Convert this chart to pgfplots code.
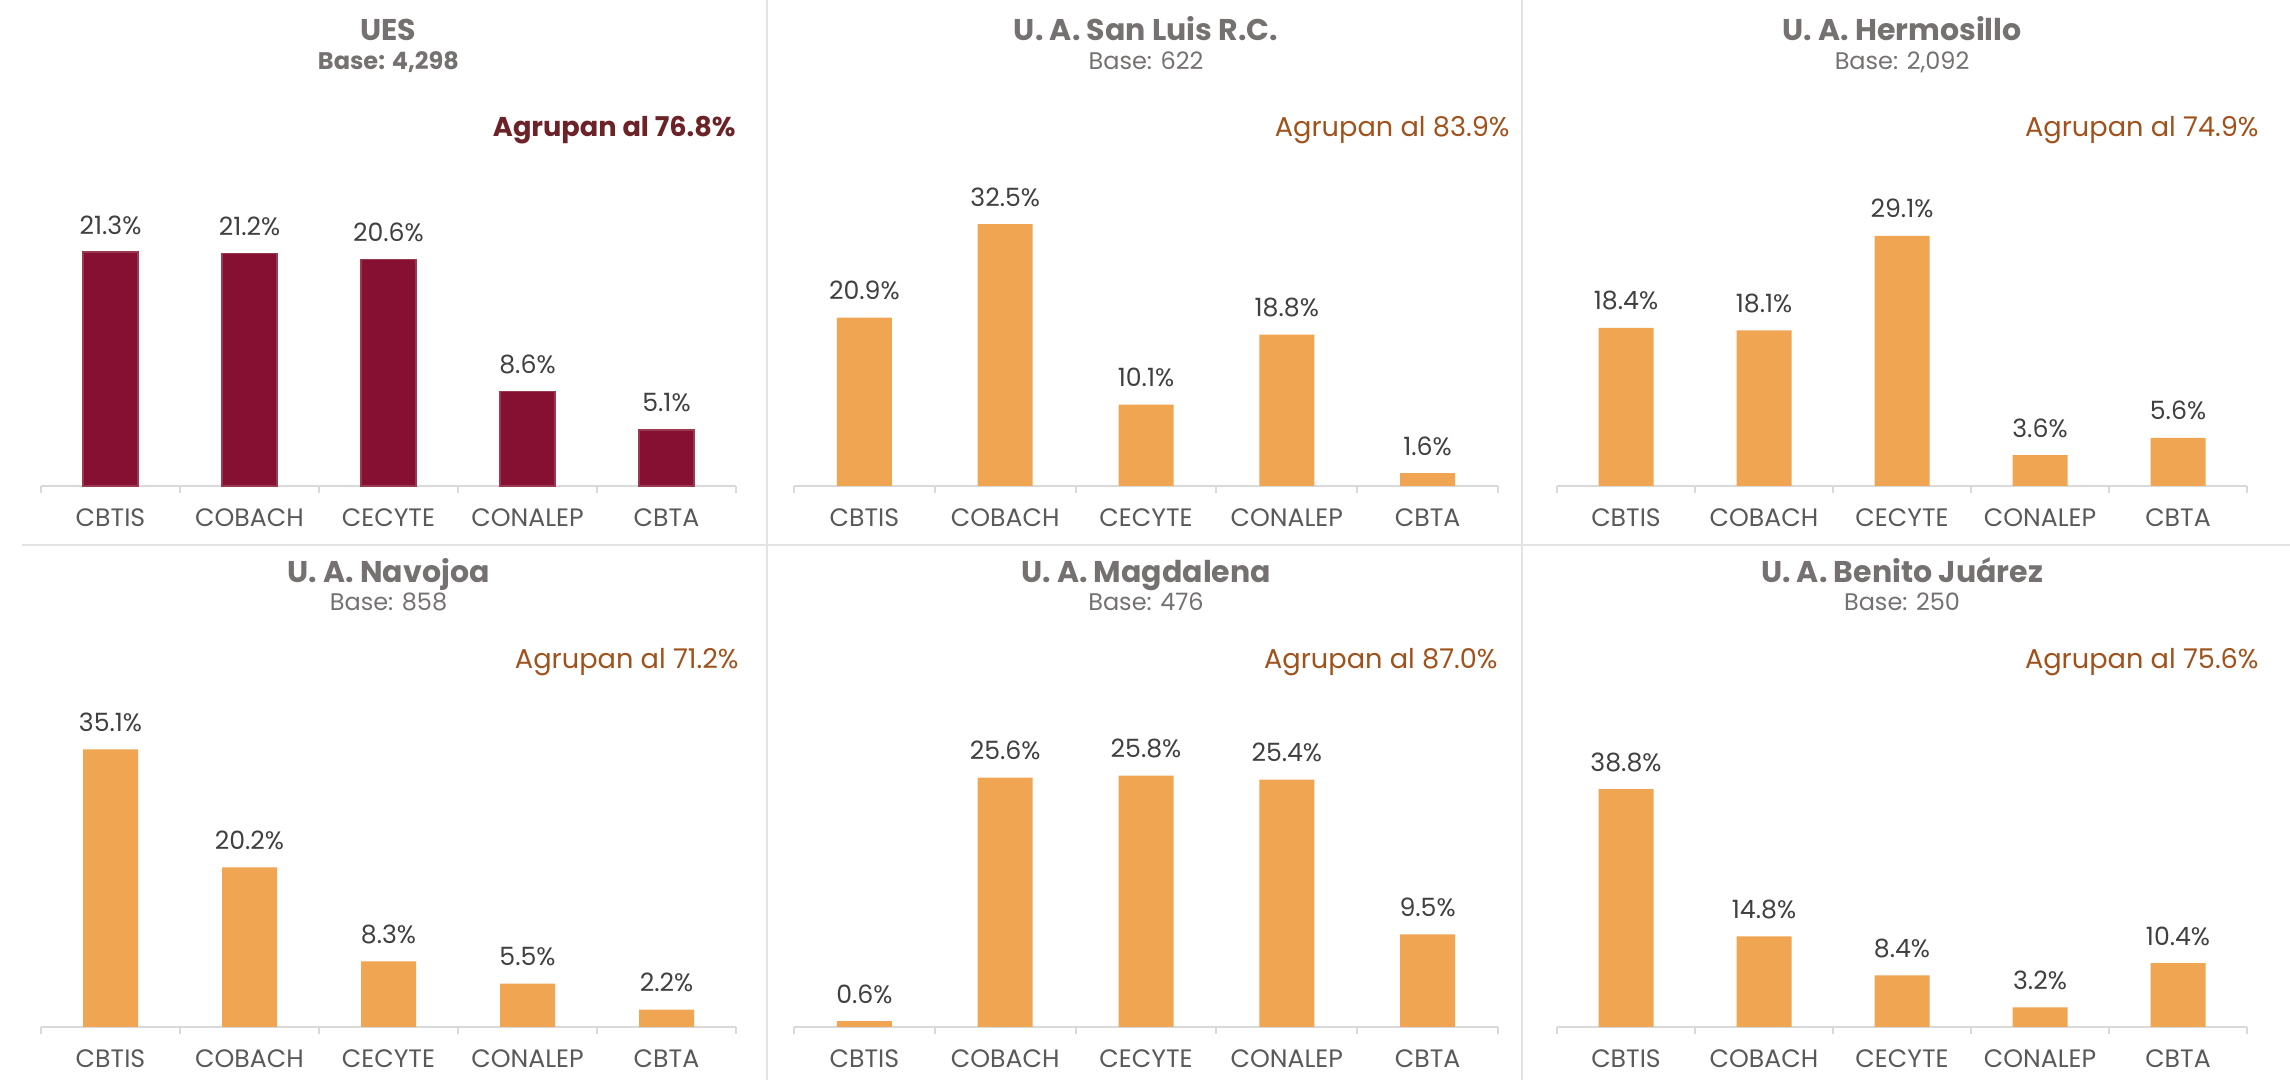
\documentclass[border=0pt]{standalone}
\usepackage{pgfplots}
\pgfplotsset{compat=1.18}
\usepackage{fontspec}
\setmainfont{Poppins}
\definecolor{maroon}{HTML}{861031}
\definecolor{maroonedge}{HTML}{9A3A50}
\definecolor{orangebar}{HTML}{F0A552}
\definecolor{titlegray}{HTML}{767171}
\definecolor{valgray}{HTML}{404040}
\definecolor{labelgray}{HTML}{595959}
\definecolor{axisgray}{HTML}{D9D9D9}
\definecolor{sepgray}{HTML}{E3E3E3}
\definecolor{agrmaroon}{HTML}{6B2328}
\definecolor{agrbrown}{HTML}{A0521C}
\pgfplotsset{
 panel/.style={
  scale only axis, height=168pt, anchor=south west,
  ybar, bar width=27.5pt, bar shift=0pt,
  xmin=-0.5, xmax=4.5, ymin=0, clip=false,
  xtick={-0.5,0.5,1.5,2.5,3.5,4.5}, x tick label as interval,
  xticklabels={CBTIS,COBACH,CECYTE,CONALEP,CBTA},
  tick align=outside, major tick length=3.5pt,
  major x tick style={draw=axisgray, line width=1pt},
  axis x line*=bottom, axis y line=none,
  axis line style={-, draw=axisgray, line width=1.2pt},
  ytick=\empty,
  xticklabel style={font=\fontsize{12.6}{14}\selectfont, text=labelgray, anchor=base, yshift=-17pt},
  /pgf/number format/assume math mode=true,
  nodes near coords={\pgfmathprintnumber[fixed,fixed zerofill,precision=1]{\pgfplotspointmeta}\%},
  nodes near coords style={font=\fontsize{12.6}{14}\selectfont, text=valgray, anchor=base, yshift=9pt},
 },
 obar/.style={fill=orangebar, draw=none},
}
\newcommand{\ttl}[1]{\fontsize{15}{17}\selectfont\bfseries #1}
\newcommand{\bse}[1]{\fontsize{12}{14}\selectfont #1}
\newcommand{\agr}[1]{\fontsize{13.6}{16}\selectfont #1}
\begin{document}
\begin{tikzpicture}
\path[use as bounding box] (0,0) rectangle (1145pt,540pt);
% separators
\draw[sepgray, line width=1pt] (383.5pt,0) -- (383.5pt,540pt);
\draw[sepgray, line width=1pt] (761pt,0) -- (761pt,540pt);
\draw[sepgray, line width=1pt] (11pt,267.5pt) -- (1145pt,267.5pt);

% Panel 1 UES
\begin{axis}[panel, at={(20.5pt,297pt)}, width=347.5pt, ymax=30.6]
\addplot[fill=maroon, draw=maroonedge, line width=0.6pt] coordinates {(0,21.3) (1,21.2) (2,20.6) (3,8.6) (4,5.1)};
\end{axis}
\node[anchor=base, text=titlegray] at (194.25pt,519.5pt) {\ttl{UES}};
\node[anchor=base, text=titlegray] at (194.25pt,505pt) {\bse{\bfseries Base: 4,298}};
\node[anchor=base east, text=agrmaroon, inner sep=0pt] at (368pt,471.5pt) {\agr{\bfseries Agrupan al 76.8\%}};

% Panel 2 San Luis
\begin{axis}[panel, at={(397pt,297pt)}, width=352pt, ymax=41.7]
\addplot[obar] coordinates {(0,20.9) (1,32.5) (2,10.1) (3,18.8) (4,1.6)};
\end{axis}
\node[anchor=base, text=titlegray] at (573pt,519.5pt) {\ttl{U. A. San Luis R.C.}};
\node[anchor=base, text=titlegray] at (573pt,505pt) {\bse{Base: 622}};
\node[anchor=base east, text=agrbrown, inner sep=0pt] at (755pt,471.5pt) {\agr{Agrupan al 83.9\%}};

% Panel 3 Hermosillo
\begin{axis}[panel, at={(778.5pt,297pt)}, width=345pt, ymax=39.1]
\addplot[obar] coordinates {(0,18.4) (1,18.1) (2,29.1) (3,3.6) (4,5.6)};
\end{axis}
\node[anchor=base, text=titlegray] at (951pt,519.5pt) {\ttl{U. A. Hermosillo}};
\node[anchor=base, text=titlegray] at (951pt,505pt) {\bse{Base: 2,092}};
\node[anchor=base east, text=agrbrown, inner sep=0pt] at (1129.5pt,471.5pt) {\agr{Agrupan al 74.9\%}};

% Panel 4 Navojoa
\begin{axis}[panel, at={(20.5pt,26.5pt)}, width=347.5pt, ymax=42.5]
\addplot[obar] coordinates {(0,35.1) (1,20.2) (2,8.3) (3,5.5) (4,2.2)};
\end{axis}
\node[anchor=base, text=titlegray] at (194.25pt,248.5pt) {\ttl{U. A. Navojoa}};
\node[anchor=base, text=titlegray] at (194.25pt,234.7pt) {\bse{Base: 858}};
\node[anchor=base east, text=agrbrown, inner sep=0pt] at (369.5pt,205.5pt) {\agr{Agrupan al 71.2\%}};

% Panel 5 Magdalena
\begin{axis}[panel, at={(397pt,26.5pt)}, width=352pt, ymax=34.5]
\addplot[obar] coordinates {(0,0.6) (1,25.6) (2,25.8) (3,25.4) (4,9.5)};
\end{axis}
\node[anchor=base, text=titlegray] at (573pt,248.5pt) {\ttl{U. A. Magdalena}};
\node[anchor=base, text=titlegray] at (573pt,234.7pt) {\bse{Base: 476}};
\node[anchor=base east, text=agrbrown, inner sep=0pt] at (749pt,205.5pt) {\agr{Agrupan al 87.0\%}};

% Panel 6 Benito Juarez
\begin{axis}[panel, at={(778.5pt,26.5pt)}, width=345pt, ymax=54.8]
\addplot[obar] coordinates {(0,38.8) (1,14.8) (2,8.4) (3,3.2) (4,10.4)};
\end{axis}
\node[anchor=base, text=titlegray] at (951pt,248.5pt) {\ttl{U. A. Benito Juárez}};
\node[anchor=base, text=titlegray] at (951pt,234.7pt) {\bse{Base: 250}};
\node[anchor=base east, text=agrbrown, inner sep=0pt] at (1129.5pt,205.5pt) {\agr{Agrupan al 75.6\%}};
\end{tikzpicture}
\end{document}
